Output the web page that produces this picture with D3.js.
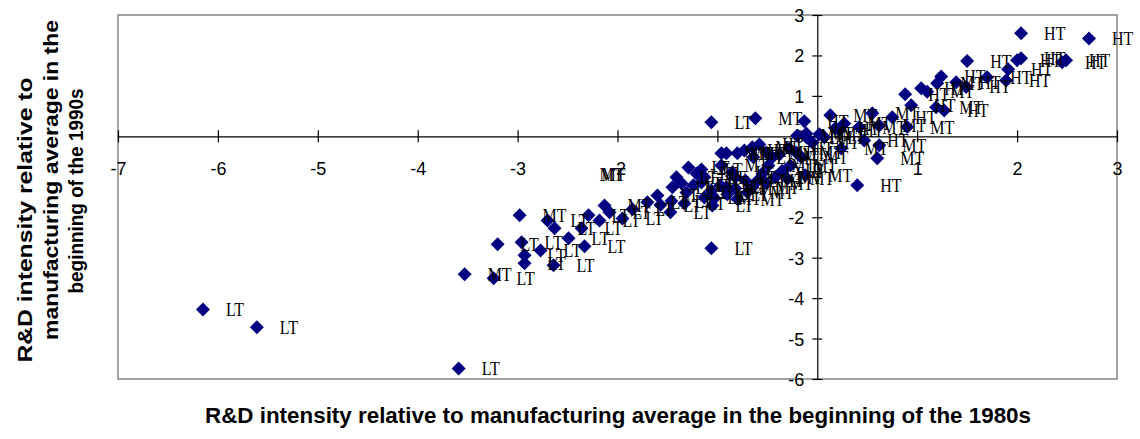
<!DOCTYPE html>
<html>
<head>
<meta charset="utf-8">
<script src="https://cdn.jsdelivr.net/npm/d3@7"></script>
<style>
  body { margin: 0; background: #ffffff; }
  svg { display: block; }
</style>
</head>
<body>
<svg id="chart" width="1140" height="439"></svg>
<script>
// R&D intensity of industries relative to the manufacturing average,
// early 1980s (x) against early 1990s (y), labelled by technology class.
const rd1980s = [
  -6.15, -5.61, -3.59, -3.53, -3.24, -3.20, -2.98, -2.96, -2.93, -2.93,
  -2.77, -2.70, -2.63, -2.64, -2.49, -2.33, -2.29, -2.36, -2.18, -2.13,
  -2.08, -1.95, -1.70, -1.60, -1.47, -1.06, -1.06, -0.62,
  -1.41, -1.45, -1.36, -1.29, -1.21, -1.13, -1.31, -1.16, -1.06, -1.13,
  -1.05, -1.33, -1.03, -0.96, -0.91, -0.85, -0.91, -0.96, -0.97, -0.82,
  -0.82, -0.72, -0.65, -0.51, -0.42, -1.05, -0.80, -0.73, -0.65, -0.58,
  -0.64, -0.51, -0.45, -0.21, -0.16, -0.27, -0.12, -0.35, -0.30, -0.80,
  -0.49, -0.55, -0.38, -0.28, -0.05, -1.16, -1.24, -1.46, -1.57, -1.85,
  -0.90, -0.70, -0.60,
  -0.20, -0.11, -0.13, -0.11, 0.07, 0.13, 0.18, 0.24, 0.27, 0.22,
  0.42, 0.40, 0.55, 0.62, 0.62, 0.60, 0.75, 0.90, 0.88, 0.94,
  1.04, 1.10, 1.19, 1.27, 1.24, 1.20, 1.39, 1.49, 1.50, 1.70,
  1.91, 1.89, 2.04, 2.00, 2.04, 2.72, 2.49, 2.45, 0.47, 0.02
];
const rd1990s = [
  -4.28, -4.72, -5.74, -3.41, -3.51, -2.67, -1.95, -2.62, -2.94, -3.14,
  -2.82, -2.08, -2.27, -3.19, -2.52, -2.72, -1.95, -2.27, -2.08, -1.71,
  -1.88, -2.03, -1.63, -1.46, -1.88, -2.77, 0.35, 0.45,
  -1.01, -1.26, -1.16, -0.77, -0.92, -1.01, -1.39, -1.14, -1.34, -1.51,
  -1.71, -1.66, -1.53, -0.42, -0.42, -0.89, -1.26, -0.72, -1.21, -1.01,
  -1.29, -1.09, -1.26, -1.16, -1.01, -1.46, -0.42, -0.35, -0.27, -0.20,
  -0.52, -0.40, -0.52, -0.40, -0.52, -0.72, -0.96, -0.85, -1.05, -1.55,
  -0.72, -0.92, -0.45, -0.30, -0.15, -0.82, -1.21, -1.60, -1.70, -1.80,
  -1.43, -1.38, -1.10,
  0.02, 0.07, 0.37, -0.02, -0.02, 0.52, 0.20, -0.30, 0.32, 0.15,
  0.23, -1.21, 0.57, 0.27, -0.22, -0.54, 0.47, 0.23, 1.04, 0.77,
  1.19, 1.10, 0.72, 0.64, 1.48, 1.31, 1.34, 1.22, 1.86, 1.46,
  1.66, 1.38, 1.93, 1.88, 2.55, 2.42, 1.88, 1.83, -0.10, 0.05
];
const techClass = [
  "LT", "LT", "LT", "MT", "LT", "LT", "MT", "LT", "LT", "LT",
  "LT", "LT", "LT", "LT", "LT", "LT", "LT", "LT", "LT", "MT",
  "LT", "LT", "LT", "LT", "LT", "LT", "LT", "MT",
  "LT", "LT", "LT", "LT", "LT", "LT", "LT", "MT", "LT", "LT",
  "LT", "LT", "MT", "MT", "MT", "LT", "LT", "MT", "MT", "LT",
  "MT", "LT", "MT", "MT", "MT", "LT", "MT", "HT", "MT", "HT",
  "LT", "MT", "MT", "MT", "MT", "MT", "MT", "LT", "MT", "MT",
  "MT", "LT", "MT", "HT", "MT", "LT", "LT", "LT", "LT", "LT",
  "LT", "MT", "MT",
  "MT", "MT", "HT", "LT", "LT", "MT", "HT", "MT", "MT", "HT",
  "MT", "HT", "MT", "MT", "MT", "MT", "HT", "MT", "HT", "HT",
  "HT", "MT", "MT", "HT", "HT", "MT", "HT", "HT", "HT", "HT",
  "HT", "HT", "HT", "HT", "HT", "HT", "HT", "HT", "HT", "MT"
];

// Two class labels that sit on their own, without a marker
const looseLabelX = [-2.18, -2.16];
const looseLabelY = [-1.10, -1.10];
const looseLabelText = ["MT", "MT"];

const xTickValues = [-7, -6, -5, -4, -3, -2, -1, 0, 1, 2, 3];
const yTickValues = [3, 2, 1, 0, -1, -2, -3, -4, -5, -6];

const xTitle = "R&D intensity relative to manufacturing average in the beginning of the 1980s";
const yTitleLines = ["R&D intensity relative to", "manufacturing average in the", "beginning of the 1990s"];

const svg = d3.select("#chart");

const x = d3.scaleLinear().domain([-7, 3]).range([118, 1117]);
const y = d3.scaleLinear().domain([-6, 3]).range([379, 15]);

const points = rd1980s.map((v, i) => ({ x: v, y: rd1990s[i], c: techClass[i] }));

// plot frame
svg.append("rect")
  .attr("x", x(-7)).attr("y", y(3))
  .attr("width", x(3) - x(-7)).attr("height", y(-6) - y(3))
  .attr("fill", "none").attr("stroke", "#8a8a8a").attr("stroke-width", 1.6);

const sansFont = "'Liberation Sans', Arial, sans-serif";
const serifFont = "'Liberation Serif', 'Times New Roman', serif";
const minusFormat = d => d < 0 ? "-" + Math.abs(d) : String(d);

// horizontal axis through y = 0, ticks crossing the line
const xAxis = svg.append("g")
  .attr("transform", `translate(0,${y(0)})`)
  .call(d3.axisBottom(x).tickValues(xTickValues).tickSizeOuter(0).tickFormat(minusFormat));
xAxis.select(".domain").attr("stroke", "#000").attr("stroke-width", 1.2);
xAxis.selectAll(".tick line").attr("y1", -6).attr("y2", 6).attr("stroke", "#000").attr("stroke-width", 1.2);
xAxis.selectAll(".tick text")
  .attr("y", 39).attr("dy", null)
  .attr("font-family", sansFont).attr("font-size", 18).attr("fill", "#000");

// vertical axis through x = 0
const yAxis = svg.append("g")
  .attr("transform", `translate(${x(0)},0)`)
  .call(d3.axisLeft(y).tickValues(yTickValues).tickSizeOuter(0).tickFormat(minusFormat));
yAxis.select(".domain").attr("stroke", "#000").attr("stroke-width", 1.2);
yAxis.selectAll(".tick line").attr("x1", -5).attr("x2", 5).attr("stroke", "#000").attr("stroke-width", 1.2);
yAxis.selectAll(".tick text")
  .attr("x", -13).attr("dy", "0.36em")
  .attr("font-family", sansFont).attr("font-size", 18).attr("fill", "#000");

// diamond markers
const diamond = d => `M${x(d.x)},${y(d.y) - 7}L${x(d.x) + 7},${y(d.y)}L${x(d.x)},${y(d.y) + 7}L${x(d.x) - 7},${y(d.y)}Z`;
svg.append("g").selectAll("path")
  .data(points)
  .join("path")
  .attr("d", diamond)
  .attr("fill", "#000080");

// technology-class labels to the right of each marker (slightly tall serif face)
svg.append("g").selectAll("text")
  .data(points)
  .join("text")
  .attr("transform", d => `translate(${x(d.x) + 23},${y(d.y) + 6.5}) scale(1,1.2)`)
  .attr("font-family", serifFont).attr("font-size", 16).attr("fill", "#000")
  .text(d => d.c);

svg.append("g").selectAll("text")
  .data(looseLabelText.map((t, i) => ({ x: looseLabelX[i], y: looseLabelY[i], t })))
  .join("text")
  .attr("transform", d => `translate(${x(d.x)},${y(d.y)}) scale(1,1.2)`)
  .attr("font-family", serifFont).attr("font-size", 16).attr("fill", "#000")
  .text(d => d.t);

// axis titles
svg.append("text")
  .attr("x", 618).attr("y", 423)
  .attr("text-anchor", "middle")
  .attr("font-family", sansFont).attr("font-weight", "bold").attr("font-size", 22)
  .attr("textLength", 826).attr("lengthAdjust", "spacingAndGlyphs")
  .text(xTitle);

const yTitleX = [32, 58, 83];
const yTitleMid = [220, 180, 191];
const yTitleLen = [285, 320, 205];
yTitleLines.forEach((line, i) => {
  svg.append("text")
    .attr("transform", `translate(${yTitleX[i]},${yTitleMid[i]}) rotate(-90)`)
    .attr("text-anchor", "middle")
    .attr("font-family", sansFont).attr("font-weight", "bold").attr("font-size", 21)
    .attr("textLength", yTitleLen[i]).attr("lengthAdjust", "spacingAndGlyphs")
    .text(line);
});
</script>
</body>
</html>
